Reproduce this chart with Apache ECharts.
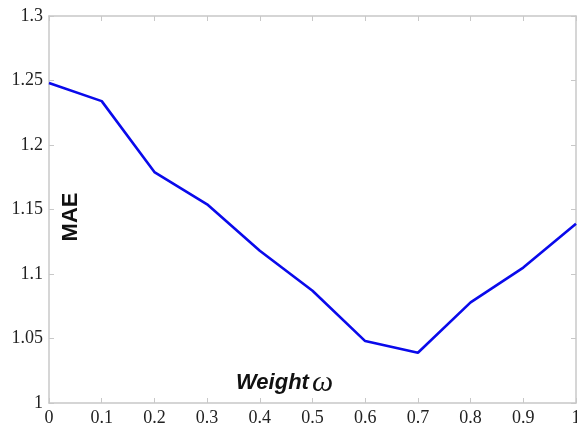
<!DOCTYPE html>
<html>
<head>
<meta charset="utf-8">
<script src="https://cdn.jsdelivr.net/npm/echarts@6/dist/echarts.min.js"></script>
<style>html,body{margin:0;padding:0;background:#fff}#c{width:577px;height:432px}</style>
</head>
<body>
<div id="c"></div>
<script>
const weights = [0, 0.1, 0.2, 0.3, 0.4, 0.5, 0.6, 0.7, 0.8, 0.9, 1.0];
const mae = [1.248, 1.234, 1.179, 1.154, 1.118, 1.087, 1.048, 1.039, 1.078, 1.105, 1.139];
const yLabel = 'MAE';
const xLabelWord = 'Weight';
const xLabelSym = 'ω';

const chart = echarts.init(document.getElementById('c'), null, {renderer: 'canvas'});
const axisColor = '#c8c8c8';
const labelFont = {fontFamily: 'Liberation Serif', fontSize: 18, color: '#222'};
const fmt = v => String(parseFloat(v.toFixed(2)));
chart.setOption({
  animation: false,
  backgroundColor: '#fff',
  grid: {left: 49, right: 1, top: 16, bottom: 29, containLabel: false, outerBoundsMode: 'none'},
  xAxis: [{
    type: 'value', min: 0, max: 1, interval: 0.1, position: 'bottom',
    axisLine: {show: true, onZero: false, lineStyle: {color: axisColor, width: 1.5}},
    axisTick: {show: true, inside: true, length: 5, lineStyle: {color: axisColor}},
    splitLine: {show: false},
    axisLabel: Object.assign({margin: 6, formatter: fmt, showMaxLabel: true, hideOverlap: false}, labelFont)
  }, {
    type: 'value', min: 0, max: 1, interval: 0.1, position: 'top',
    axisLine: {show: true, onZero: false, lineStyle: {color: axisColor, width: 1.5}},
    axisTick: {show: true, inside: true, length: 5, lineStyle: {color: axisColor}},
    splitLine: {show: false}, axisLabel: {show: false}
  }],
  yAxis: [{
    type: 'value', min: 1, max: 1.3, interval: 0.05, position: 'left',
    axisLine: {show: true, onZero: false, lineStyle: {color: axisColor, width: 1.5}},
    axisTick: {show: true, inside: true, length: 5, lineStyle: {color: axisColor}},
    splitLine: {show: false},
    axisLabel: Object.assign({margin: 6, formatter: fmt}, labelFont)
  }, {
    type: 'value', min: 1, max: 1.3, interval: 0.05, position: 'right',
    axisLine: {show: true, onZero: false, lineStyle: {color: axisColor, width: 1.5}},
    axisTick: {show: true, inside: true, length: 5, lineStyle: {color: axisColor}},
    splitLine: {show: false}, axisLabel: {show: false}
  }],
  series: [{
    type: 'line',
    data: weights.map((w, i) => [w, mae[i]]),
    showSymbol: false,
    lineStyle: {color: '#0a0aeb', width: 2.6},
    itemStyle: {color: '#0a0aeb'}
  }],
  graphic: [
    {
      type: 'text', x: 71, y: 217, rotation: Math.PI / 2,
      style: {text: yLabel, font: 'bold 22px "Liberation Sans"', fill: '#111', align: 'center', verticalAlign: 'middle'}
    },
    {
      type: 'text', x: 236, y: 383,
      style: {
        text: '{a|' + xLabelWord + '}{b|' + xLabelSym + '}',
        verticalAlign: 'middle', align: 'left',
        rich: {
          a: {font: 'italic bold 22px "Liberation Sans"', fill: '#111'},
          b: {font: 'italic 30px "Liberation Serif"', fill: '#111', padding: [0, 0, 0, 3]}
        }
      }
    }
  ]
});
</script>
</body>
</html>
